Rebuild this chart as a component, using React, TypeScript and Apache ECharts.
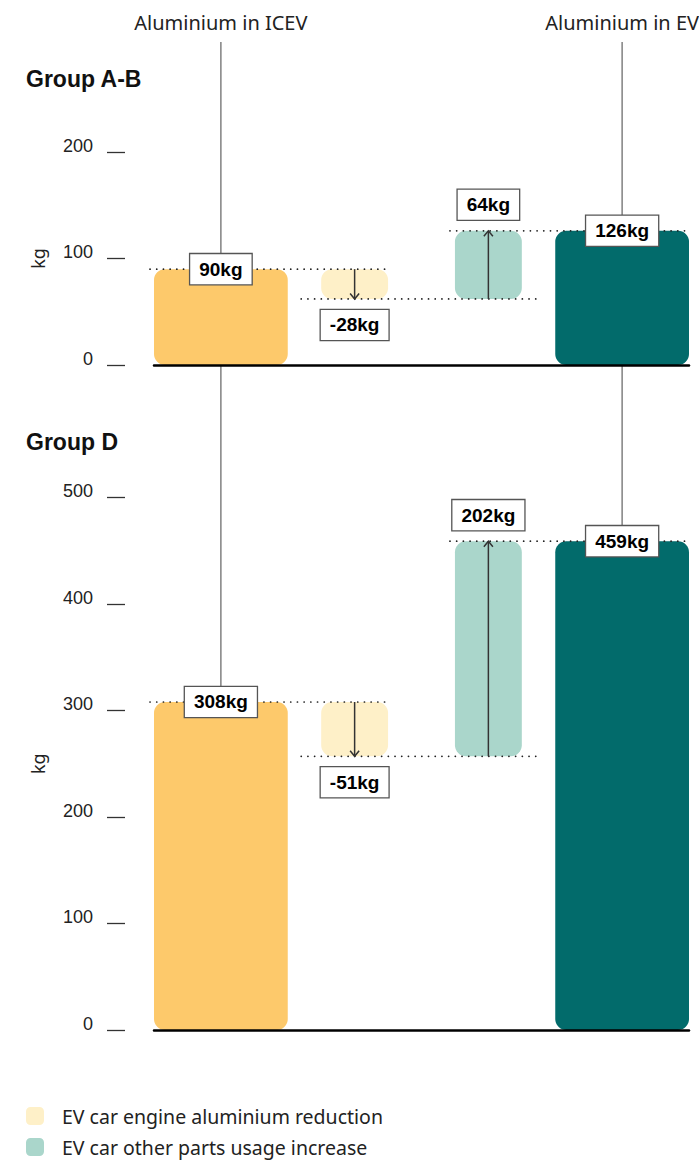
import React, { useEffect, useRef } from "react";
import * as echarts from "echarts";

// ---- data ----
const categories = [
  "Aluminium in ICEV",
  "EV car engine aluminium reduction",
  "EV car other parts usage increase",
  "Aluminium in EV",
];
const groupNames = ["Group A-B", "Group D"];
const groupABValues = [90, -28, 64, 126];
const groupDValues = [308, -51, 202, 459];
const groupABTicks = [0, 100, 200];
const groupDTicks = [0, 100, 200, 300, 400, 500];
const legendNames = [categories[1], categories[2]];
const unit = "kg";

// ---- styles ----
const COLORS = ["#FDC96B", "#FEF0C8", "#AAD6CB", "#026B6B"];
const SANS = '"Noto Sans", "Open Sans", sans-serif';
const ARIAL = '"Liberation Sans", Arial, sans-serif';

const GRID_LEFT = 154;
const GRID_WIDTH = 535;
const PX_PER_UNIT = 1.065;
const GRID1_TOP = 152;
const GRID1_H = (groupABTicks[groupABTicks.length - 1] - groupABTicks[0]) * PX_PER_UNIT;
const GRID2_TOP = 497.5;
const GRID2_H = (groupDTicks[groupDTicks.length - 1] - groupDTicks[0]) * PX_PER_UNIT;
const HEADER_OFFSET = 110;

function buildWaterfall(values: number[]) {
  let run = 0;
  return values.map((v, i) => {
    if (i === 0) {
      run = v;
      return [i, 0, v, v];
    }
    if (i === values.length - 1) return [i, 0, v, v];
    const s = run;
    run += v;
    return [i, s, run, v];
  });
}

const makeRender = (connectorTop: number) => (params: any, api: any) => {
  const i = api.value(0);
  const s = api.value(1);
  const e = api.value(2);
  const v = api.value(3);
  const band = api.size([1, 0])[0];
  const isTotal = i === 0 || i === 3;
  const w = isTotal ? band : band * 0.5;
  const cx = api.coord([i, 0])[0];
  const ys = api.coord([i, s])[1];
  const ye = api.coord([i, e])[1];
  const top = Math.min(ys, ye);
  const bot = Math.max(ys, ye);
  const h = bot - top;
  const children: any[] = [];
  const dotStyle = { stroke: "#222", lineWidth: 1.7, lineDash: [0.1, 6.6], lineCap: "round" };
  const labelStyle = (text: string) => ({
    text,
    fill: "#000",
    font: `bold 19px ${ARIAL}`,
    align: "center",
    verticalAlign: "middle",
    backgroundColor: "#fff",
    borderColor: "#555",
    borderWidth: 1.3,
    padding: [6, 9, 5, 9],
    lineHeight: 19,
  });

  if (isTotal) {
    children.push({
      type: "line",
      z2: 1,
      shape: { x1: cx, y1: connectorTop, x2: cx, y2: ye - 15 },
      style: { stroke: "#808080", lineWidth: 1.5 },
    });
  }
  children.push({
    type: "rect",
    z2: 2,
    shape: { x: cx - w / 2, y: top, width: w, height: h, r: Math.min(11, h / 2) },
    style: { fill: COLORS[i] },
  });
  // dotted connector levels
  if (i === 1) {
    children.push({
      type: "line",
      z2: 5,
      shape: { x1: cx - band * 1.5 - 4, y1: ys, x2: cx + w / 2, y2: ys },
      style: dotStyle,
    });
  } else if (i === 2) {
    children.push({
      type: "line",
      z2: 5,
      shape: { x1: cx - band * 1.25 - 20, y1: ys, x2: cx + w / 2 + 20, y2: ys },
      style: dotStyle,
    });
  } else if (i === 3) {
    children.push({
      type: "line",
      z2: 5,
      shape: { x1: cx - band * 1.25 - 5, y1: ye, x2: cx + w / 2, y2: ye },
      style: dotStyle,
    });
  }
  if (!isTotal) {
    const dir = ye > ys ? 1 : -1;
    children.push({
      type: "line",
      z2: 6,
      shape: { x1: cx, y1: ys, x2: cx, y2: ye },
      style: { stroke: "#333", lineWidth: 1.5 },
    });
    children.push({
      type: "polyline",
      z2: 6,
      shape: { points: [[cx - 4.5, ye - dir * 5.5], [cx, ye], [cx + 4.5, ye - dir * 5.5]] },
      style: { stroke: "#333", lineWidth: 1.5, fill: null },
    });
    const ly = v < 0 ? bot + 11 + 15 : top - 11 - 15;
    children.push({ type: "text", z2: 10, x: cx, y: ly, style: labelStyle(`${v}${unit}`) });
  } else {
    children.push({ type: "text", z2: 10, x: cx, y: ye, style: labelStyle(`${v}${unit}`) });
  }
  return { type: "group", children };
};

function yAxisFor(gridIndex: number, ticks: number[]) {
  return {
    type: "value",
    gridIndex,
    min: ticks[0],
    max: ticks[ticks.length - 1],
    interval: ticks[1] - ticks[0],
    offset: 29,
    axisLine: { show: false },
    axisTick: { show: true, length: 18, lineStyle: { color: "#333", width: 1.3 } },
    splitLine: { show: false },
    axisLabel: {
      margin: 32,
      fontSize: 18,
      fontFamily: ARIAL,
      color: "#222",
      verticalAlign: "bottom",
      lineHeight: 13,
    },
    name: unit,
    nameLocation: "middle",
    nameRotate: 90,
    nameGap: 78,
    nameTextStyle: { fontSize: 18, fontFamily: SANS, color: "#222" },
  };
}

function xAxisFor(gridIndex: number) {
  return {
    type: "category",
    gridIndex,
    data: categories,
    z: 5,
    axisLine: { show: true, lineStyle: { color: "#000", width: 2.5 } },
    axisTick: { show: false },
    axisLabel: { show: false },
    splitLine: { show: false },
  };
}

export default function App() {
  const ref = useRef<HTMLDivElement>(null);
  useEffect(() => {
    document.body.style.margin = "0";
    if (!ref.current) return;
    const chart = echarts.init(ref.current, null, { renderer: "svg" });
    const titleStyle = { fontSize: 23, fontWeight: "bold", fontFamily: ARIAL, color: "#111" };
    chart.setOption({
      animation: false,
      backgroundColor: "#fff",
      title: [
        { text: groupNames[0], left: 26, top: 67, padding: 0, textStyle: titleStyle },
        { text: groupNames[1], left: 26, top: 430, padding: 0, textStyle: titleStyle },
      ],
      grid: [
        { left: GRID_LEFT, width: GRID_WIDTH, top: GRID1_TOP, height: GRID1_H, containLabel: false, outerBoundsMode: "none" },
        { left: GRID_LEFT, width: GRID_WIDTH, top: GRID2_TOP, height: GRID2_H, containLabel: false, outerBoundsMode: "none" },
      ],
      xAxis: [
        xAxisFor(0),
        {
          type: "category",
          gridIndex: 0,
          data: categories,
          position: "top",
          offset: HEADER_OFFSET,
          axisLine: { show: false },
          axisTick: { show: false },
          splitLine: { show: false },
          axisLabel: {
            interval: 0,
            margin: 20,
            fontSize: 20,
            fontFamily: SANS,
            color: "#222",
            verticalAlign: "middle",
            formatter: (val: string, idx: number) => (idx === 0 || idx === categories.length - 1 ? val : ""),
          },
        },
        xAxisFor(1),
      ],
      yAxis: [yAxisFor(0, groupABTicks), yAxisFor(1, groupDTicks)],
      legend: {
        show: true,
        orient: "vertical",
        left: 26,
        top: 1106,
        height: 120,
        padding: 0,
        itemWidth: 18,
        itemHeight: 18,
        itemGap: 11,
        icon: "roundRect",
        selectedMode: false,
        data: legendNames,
        textStyle: { fontSize: 19.5, lineHeight: 18, fontFamily: SANS, color: "#222", padding: [0, 0, 0, 13] },
      },
      series: [
        {
          type: "custom",
          name: groupNames[0],
          xAxisIndex: 0,
          yAxisIndex: 0,
          clip: false,
          renderItem: makeRender(GRID1_TOP - HEADER_OFFSET),
          encode: { x: 0, y: [1, 2] },
          data: buildWaterfall(groupABValues),
        },
        {
          type: "custom",
          name: groupNames[1],
          xAxisIndex: 2,
          yAxisIndex: 1,
          clip: false,
          renderItem: makeRender(GRID1_TOP + GRID1_H),
          encode: { x: 0, y: [1, 2] },
          data: buildWaterfall(groupDValues),
        },
        { type: "bar", name: legendNames[0], xAxisIndex: 0, yAxisIndex: 0, data: [], itemStyle: { color: COLORS[1] } },
        { type: "bar", name: legendNames[1], xAxisIndex: 0, yAxisIndex: 0, data: [], itemStyle: { color: COLORS[2] } },
      ],
    });
    return () => chart.dispose();
  }, []);
  return <div ref={ref} style={{ width: 699, height: 1160 }} />;
}
